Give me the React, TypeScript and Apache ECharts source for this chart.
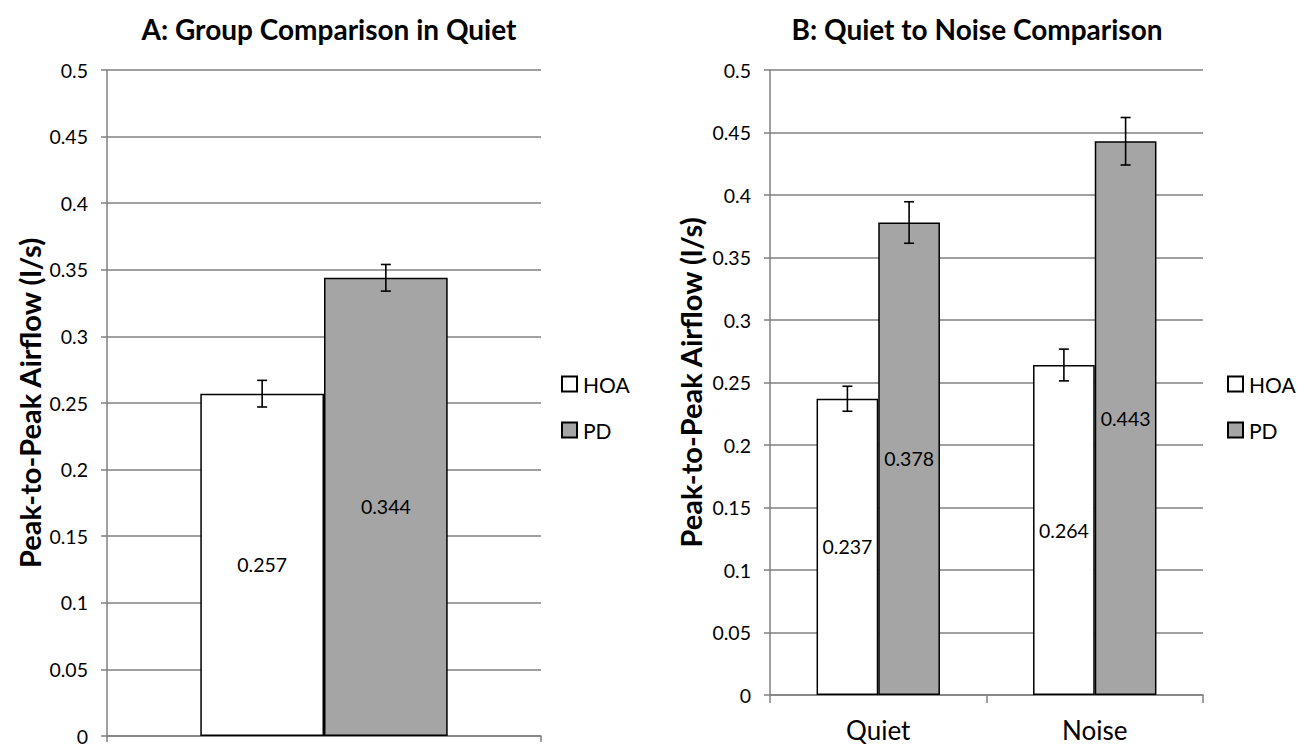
import React, { useEffect, useRef } from "react";
import * as echarts from "echarts";

const seriesNames = ["HOA", "PD"];
const categoriesA = [""];
const hoaA = [0.257];
const pdA = [0.344];
const hoaErrA = [0.01];
const pdErrA = [0.01];

const categoriesB = ["Quiet", "Noise"];
const hoaB = [0.237, 0.264];
const pdB = [0.378, 0.443];
const hoaErrB = [0.01, 0.0127];
const pdErrB = [0.0166, 0.019];

const titleA = "A: Group Comparison in Quiet";
const titleB = "B: Quiet to Noise Comparison";
const yName = "Peak-to-Peak Airflow (l/s)";

const FONT = "Lato";

export default function App() {
  const ref = useRef<HTMLDivElement>(null);
  useEffect(() => {
    document.body.style.margin = "0";
    const chart = echarts.init(ref.current!, undefined, { renderer: "svg" });

    const gap = 0.43;
    const errRender = (side: number, errs: number[]) => (params: any, api: any) => {
      const idx = api.value(0);
      const val = api.value(1);
      const err = errs[idx];
      const w = api.size([1, 0])[0];
      const off = side * w * (1 - gap) / 4;
      const c = api.coord([idx, val]);
      const top = api.coord([idx, val + err]);
      const bot = api.coord([idx, val - err]);
      const x = c[0] + off;
      const cap = 5;
      const st = { stroke: "#000", lineWidth: 1.6 };
      return {
        type: "group",
        children: [
          { type: "line", shape: { x1: x, y1: top[1], x2: x, y2: bot[1] }, style: st },
          { type: "line", shape: { x1: x - cap, y1: top[1], x2: x + cap, y2: top[1] }, style: st },
          { type: "line", shape: { x1: x - cap, y1: bot[1], x2: x + cap, y2: bot[1] }, style: st },
        ],
      };
    };

    const barStyle = (color: string) => ({ color, borderColor: "#000", borderWidth: 1.5 });
    const label = {
      show: true,
      position: "inside",
      color: "#000",
      fontSize: 19.5,
      fontFamily: FONT,
      formatter: (p: any) => String(p.value),
    };

    const yAxisBase = (gridIndex: number, nameGap: number) => ({
      type: "value",
      gridIndex,
      min: 0,
      max: 0.5,
      interval: 0.05,
      name: yName,
      nameLocation: "middle",
      nameGap,
      nameTextStyle: { fontSize: 29, fontWeight: "bold", color: "#000", fontFamily: FONT },
      axisLine: { show: true, lineStyle: { color: "#808080", width: 1.5 } },
      axisTick: { show: true, length: 6, lineStyle: { color: "#808080", width: 1.5 } },
      splitLine: { show: true, lineStyle: { color: "#808080", width: 1.5 } },
      axisLabel: {
        fontSize: 19.5,
        color: "#000",
        fontFamily: FONT,
        margin: 19,
        formatter: (v: number) => String(parseFloat(v.toFixed(2))),
      },
    });

    const legendBase = (left: number) => ({
      data: seriesNames,
      orient: "vertical",
      left,
      top: 373,
      padding: 0,
      itemWidth: 15,
      itemHeight: 15,
      itemGap: 24,
      icon: "rect",
      textStyle: { fontSize: 21, lineHeight: 22, color: "#000", fontFamily: FONT, padding: [0, 0, 0, 1] },
    });

    const titleStyle = { fontSize: 28, fontWeight: "bold", color: "#000", fontFamily: FONT };

    chart.setOption({
      animation: false,
      backgroundColor: "#fff",
      title: [
        { text: titleA, left: 324, top: 10, textAlign: "center", textStyle: titleStyle },
        { text: titleB, left: 972, top: 10, textAlign: "center", textStyle: titleStyle },
      ],
      legend: [legendBase(561), legendBase(1227)],
      grid: [
        { left: 107, top: 70, width: 434, height: 668 },
        { left: 770, top: 70, width: 433, height: 625 },
      ],
      xAxis: [
        {
          type: "category",
          gridIndex: 0,
          data: categoriesA,
          axisLine: { lineStyle: { color: "#808080", width: 1.5 } },
          axisTick: { show: true, length: 6, lineStyle: { color: "#808080", width: 1.5 } },
          axisLabel: { show: false },
        },
        {
          type: "category",
          gridIndex: 1,
          data: categoriesB,
          axisLine: { lineStyle: { color: "#808080", width: 1.5 } },
          axisTick: { show: true, length: 8, lineStyle: { color: "#808080", width: 1.5 } },
          axisLabel: { fontSize: 26, lineHeight: 27, color: "#000", fontFamily: FONT, margin: 21 },
        },
      ],
      yAxis: [yAxisBase(0, 63), yAxisBase(1, 65)],
      series: [
        { name: "HOA", type: "bar", xAxisIndex: 0, yAxisIndex: 0, data: hoaA, barGap: "0%", barCategoryGap: "43%", itemStyle: barStyle("#ffffff"), label },
        { name: "PD", type: "bar", xAxisIndex: 0, yAxisIndex: 0, data: pdA, barGap: "0%", barCategoryGap: "43%", itemStyle: barStyle("#a5a5a5"), label },
        { name: "HOA", type: "bar", xAxisIndex: 1, yAxisIndex: 1, data: hoaB, barGap: "0%", barCategoryGap: "43%", itemStyle: barStyle("#ffffff"), label },
        { name: "PD", type: "bar", xAxisIndex: 1, yAxisIndex: 1, data: pdB, barGap: "0%", barCategoryGap: "43%", itemStyle: barStyle("#a5a5a5"), label },
        { type: "custom", xAxisIndex: 0, yAxisIndex: 0, data: hoaA.map((v, i) => [i, v]), renderItem: errRender(-1, hoaErrA), z: 5 },
        { type: "custom", xAxisIndex: 0, yAxisIndex: 0, data: pdA.map((v, i) => [i, v]), renderItem: errRender(1, pdErrA), z: 5 },
        { type: "custom", xAxisIndex: 1, yAxisIndex: 1, data: hoaB.map((v, i) => [i, v]), renderItem: errRender(-1, hoaErrB), z: 5 },
        { type: "custom", xAxisIndex: 1, yAxisIndex: 1, data: pdB.map((v, i) => [i, v]), renderItem: errRender(1, pdErrB), z: 5 },
      ],
    });
    return () => chart.dispose();
  }, []);
  return <div ref={ref} style={{ width: 1297, height: 746 }} />;
}
